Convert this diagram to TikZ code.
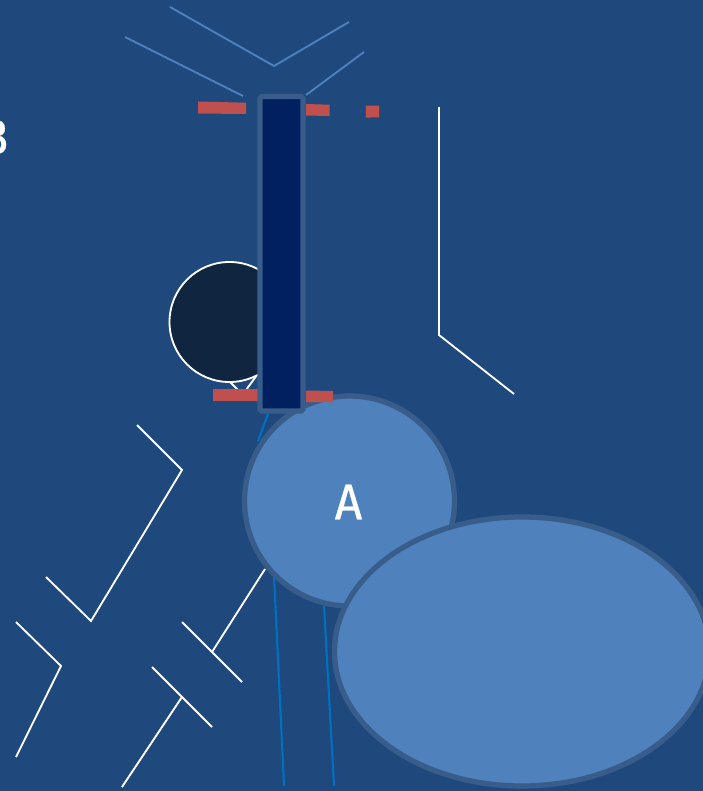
\documentclass[tikz,border=0pt]{standalone}
\usepackage{fontspec}
\newfontfamily\letterfont[FakeBold=0.6]{DejaVu Sans Mono}
\definecolor{bgblue}{HTML}{1F497D}
\definecolor{paleblue}{HTML}{4F81BD}
\definecolor{rimblue}{HTML}{385D8A}
\definecolor{barblue}{HTML}{002060}
\definecolor{darkball}{HTML}{10253F}
\definecolor{wireblue}{HTML}{0070C0}
\definecolor{padred}{HTML}{C0504D}
\tikzset{
    whitewire/.style={draw=white, line width=1.05pt},
    palewire/.style={draw=paleblue, line width=1.05pt},
    bluewire/.style={draw=wireblue, line width=1.2pt},
    bigbody/.style={draw=rimblue, fill=paleblue, line width=3pt},
    letter/.style={text=white, font=\letterfont\fontsize{27}{27}\selectfont, inner sep=0pt}
}
\begin{document}
\begin{tikzpicture}[x=0.02cm, y=-0.02cm]
    \useasboundingbox (0,0) rectangle (703,791);
    \clip (0,0) rectangle (703,791);
    \fill[bgblue] (0,0) rectangle (703,791);

    % Top wires
    \draw[palewire] (125,37) -- (243,96);
    \draw[palewire] (170,7) -- (274,66) -- (349,22);
    \draw[palewire] (306,95) -- (364,52);

    % White wires
    \draw[whitewire] (439,107) -- (439,335) -- (514,394);
    \draw[whitewire] (137,425) -- (182,470) -- (91,621) -- (46,577);
    \draw[whitewire] (16,622) -- (61,666) -- (16,757);
    \draw[whitewire] (265,569) -- (212,652);
    \draw[whitewire] (182,622) -- (242,682);
    \draw[whitewire] (152,667) -- (212,727);
    \draw[whitewire] (182,697) -- (122,787);
    \draw[whitewire] (230,382) -- (238,390);
    \draw[whitewire] (246,390) -- (257,375);

    % Blue wires
    \draw[bluewire] (268,414) -- (258,441);
    \draw[bluewire] (274,575) -- (284,786);
    \draw[bluewire] (324,606) -- (334,786);

    % Dark ball
    \draw[draw=white, fill=darkball, line width=1.05pt] (229.5,322) circle (60);

    % Big bodies
    \draw[bigbody] (349.5,501) circle (105);
    \draw[bigbody] (522,651.5) ellipse (187.5 and 134.5);

    % Red pads
    \fill[padred] (198,101.5) -- (246,102.7) -- (246,114) -- (198,113.5) -- cycle;
    \fill[padred] (306,104) -- (329.7,104.7) -- (329.7,116) -- (306,115.5) -- cycle;
    \fill[padred] (366,105.5) -- (379,105.5) -- (379,117.3) -- (365.7,117.6) -- cycle;
    \fill[padred] (213,389) -- (258,389) -- (258,401) -- (213,401) -- cycle;
    \fill[padred] (306,390.5) -- (333,391) -- (333,402) -- (306,402) -- cycle;

    % Upright bar
    \draw[draw=rimblue, fill=barblue, line width=3pt, rounded corners=1pt] (260,96.5) rectangle (303,411);

    % Letters
    \node[letter] (labelA) at (348.5,502) {A};
    \node[letter] (labelB) at (-6,137) {B};
\end{tikzpicture}
\end{document}
